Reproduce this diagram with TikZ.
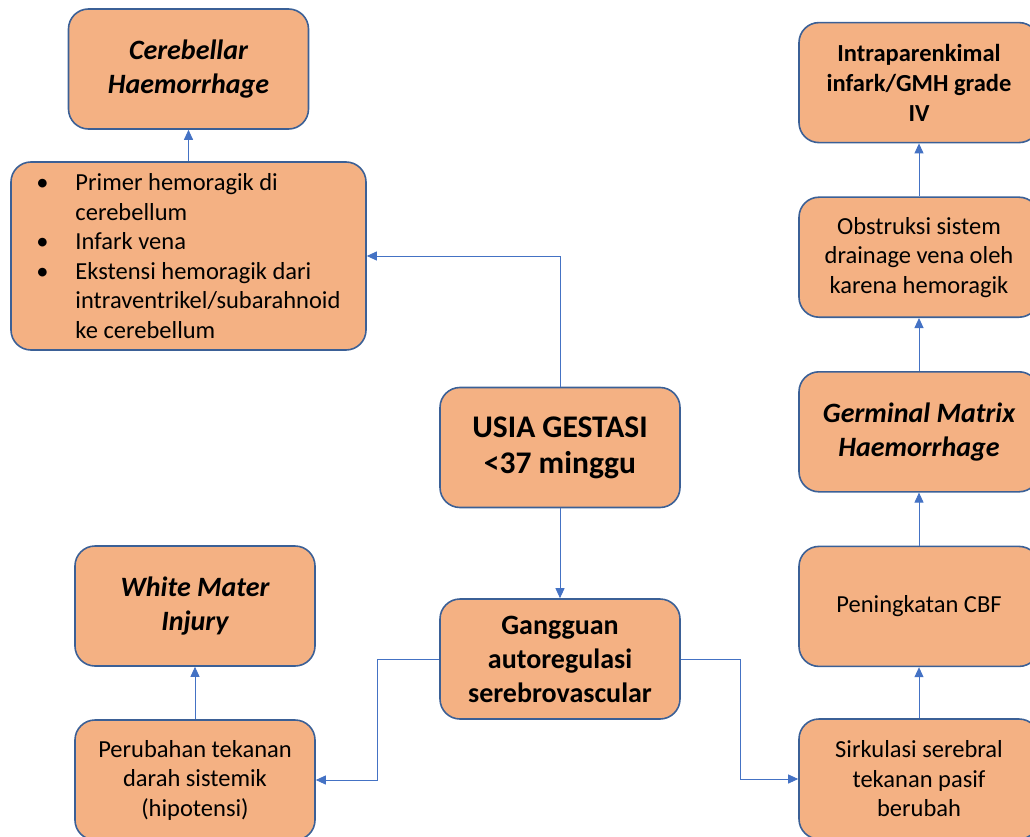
\documentclass[tikz,border=0pt]{standalone}
\usepackage{fontspec}
\setmainfont{Carlito}
\usetikzlibrary{arrows.meta,positioning}
\definecolor{boxfill}{HTML}{F4B183}
\definecolor{boxline}{HTML}{3B6096}
\definecolor{arrline}{HTML}{4472C4}
\tikzset{
  blok/.style={rectangle, rounded corners=20pt, draw=boxline, fill=boxfill, line width=1.6pt, minimum width=240pt, minimum height=120pt, align=center, inner sep=3pt, font=\fontsize{24.5}{29.5}\selectfont},
  judul/.style={blok, font=\fontsize{28}{33.5}\selectfont\bfseries\itshape},
  tebal/.style={blok, font=\fontsize{28}{34}\selectfont\bfseries},
  arr/.style={-{Triangle[length=10pt,width=9pt]}, draw=arrline, line width=0.9pt},
}
\newcommand{\bitem}{\makebox[39pt][l]{\textbullet}}
\newcommand{\bsisip}{\hspace*{39pt}}
\begin{document}
\begin{tikzpicture}[x=1pt, y=-1pt]
\useasboundingbox (0,0) rectangle (1030,837);
% kolom kiri
\node[judul] (cereb) at (188.5,69) {Cerebellar\\Haemorrhage};
\node[blok, minimum width=355pt, minimum height=188pt, align=left] (bul) at (188.5,256)
  {\bitem Primer hemoragik di\\ \bsisip cerebellum\\ \bitem Infark vena\\ \bitem Ekstensi hemoragik dari\\ \bsisip intraventrikel/subarahnoid\\ \bsisip ke cerebellum};
\node[judul] (wmi) at (195,606) {White Mater\\Injury};
\node[blok] (perub) at (195,780) {Perubahan tekanan\\darah sistemik\\(hipotensi)};
% tengah
\node[tebal, font=\fontsize{31.5}{36}\selectfont\bfseries] (usia) at (560,447.5) {USIA GESTASI\\<37 minggu};
\node[tebal] (gang) at (560,659) {Gangguan\\autoregulasi\\serebrovascular};
% kolom kanan
\node[blok] (sirk) at (919,779) {Sirkulasi serebral\\tekanan pasif\\berubah};
\node[blok, above=51pt of sirk] (cbf) {Peningkatan CBF};
\node[judul, above=53pt of cbf] (gmh) {Germinal Matrix\\Haemorrhage};
\node[blok, above=53pt of gmh] (obs) {Obstruksi sistem\\drainage vena oleh\\karena hemoragik};
\node[tebal, font=\fontsize{24.5}{30}\selectfont\bfseries, above=53pt of obs] (intra) {Intraparenkimal\\infark/GMH grade\\IV};
% panah
\draw[arr] (bul) -- (cereb);
\draw[arr] (usia.north) |- (bul.east);
\draw[arr] (usia) -- (gang);
\draw[arr] (gang.west) -- ++(-62,0) |- (perub.east);
\draw[arr] (gang.east) -- ++(60,0) |- (sirk.west);
\draw[arr] (perub) -- (wmi);
\draw[arr] (sirk) -- (cbf);
\draw[arr] (cbf) -- (gmh);
\draw[arr] (gmh) -- (obs);
\draw[arr] (obs) -- (intra);
\end{tikzpicture}
\end{document}
